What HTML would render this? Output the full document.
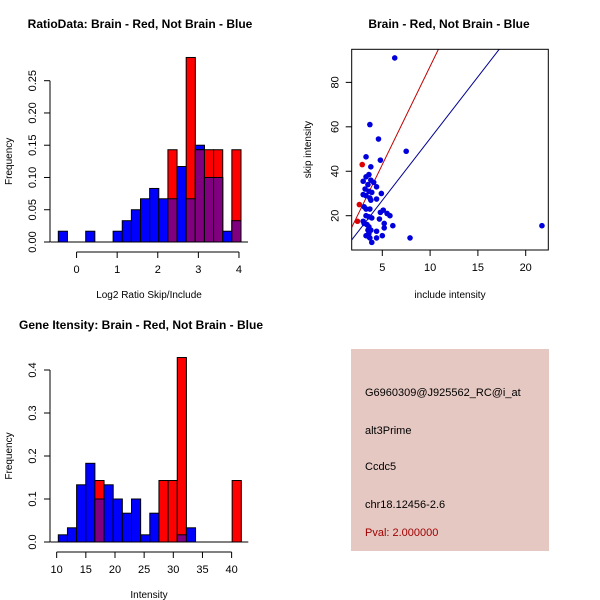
<!DOCTYPE html>
<html><head><meta charset="utf-8"><style>
body{margin:0;background:#fff}
svg{display:block;font-family:"Liberation Sans",sans-serif}
</style></head><body>
<svg id="s" width="600" height="600" xmlns="http://www.w3.org/2000/svg">
<rect width="600" height="600" fill="#fff"/>
<text x="140" y="28" font-size="12" font-weight="bold" text-anchor="middle">RatioData: Brain - Red, Not Brain - Blue</text>
<text x="449" y="28" font-size="12" font-weight="bold" text-anchor="middle">Brain - Red, Not Brain - Blue</text>
<text x="141" y="329" font-size="12" font-weight="bold" text-anchor="middle">Gene Itensity: Brain - Red, Not Brain - Blue</text>
<rect x="351" y="349" width="198" height="202" fill="#e5c8c2"/>
<g font-size="11">
<text x="365" y="396">G6960309@J925562_RC@i_at</text>
<text x="365" y="434">alt3Prime</text>
<text x="365" y="470">Ccdc5</text>
<text x="365" y="508">chr18.12456-2.6</text>
<text x="365" y="536" fill="#a00000">Pval: 2.000000</text>
</g>
</svg>
<script>
// Ratio histogram data
const ratioBlue=[0.0167,0,0,0.0167,0,0,0.0167,0.033,0.05,0.067,0.083,0.067,0.067,0.117,0.067,0.15,0.1,0.1,0.0167,0.033];
const ratioRed=[0,0,0,0,0,0,0,0,0,0,0,0,0.143,0,0.286,0.143,0.143,0.143,0,0.143];
const ratioXTicks=[0,1,2,3,4];
const ratioYTicks=["0.00","0.05","0.10","0.15","0.20","0.25"];
// Intensity histogram data
const intBlue=[0.0167,0.033,0.133,0.183,0.1,0.133,0.1,0.067,0.1,0.0167,0.067,0,0,0.0167,0.033,0,0,0,0,0];
const intRed=[0,0,0,0,0.143,0,0,0,0,0,0,0.143,0.143,0.429,0,0,0,0,0,0.143];
const intXTicks=[10,15,20,25,30,35,40];
const intYTicks=["0.0","0.1","0.2","0.3","0.4"];
// Scatter data
const scatBlueX=[6.3,3.7,4.6,7.5,3.3,4.8,3.8,3.6,3.3,3.0,3.8,4.1,3.5,4.4,3.2,3.6,3.9,3.0,4.9,3.3,3.7,4.4,3.8,3.1,3.3,3.7,5.1,4.8,5.5,5.8,3.3,3.6,3.9,4.7,3.0,3.1,5.2,3.4,6.1,3.6,5.2,3.5,3.8,4.4,3.6,3.3,3.6,5.0,4.4,3.7,7.9,3.9,21.7];
const scatBlueY=[91,61,54.5,49,46.5,45,42,38.5,37.5,35.5,36,35,34,33,32,31,30.5,29.5,30,29,28,27.5,27,24,23,23,22.5,21.5,21,20,20,19.5,19,18.5,17.5,16.5,16.5,16,15.5,15,14.5,13.5,13.5,13,12,11,10.5,11,10,10,10,8,15.5];
const scatRedX=[2.9,2.6,2.4];
const scatRedY=[43,25,17.5];
const redLine=[8.84,-1.2];
const blueLine=[5.56,-0.9];
const scatXTicks=[5,10,15,20];
const scatYTicks=[20,40,60,80];

const S=document.getElementById('s');
const NS='http://www.w3.org/2000/svg';
function mk(t,a,p){const e=document.createElementNS(NS,t);for(const k in a)e.setAttribute(k,a[k]);(p||S).appendChild(e);return e;}

function hist(blue,red,x0,x1,dmin,dmax,xticks,yvals,ylim,yTop,yBot,prefix,xlabel,xlabY){
  const g=mk('g',{});
  
  
  const n=blue.length,bw=(x1-x0)/n;
  const fy=v=>yBot-(v/ylim)*(yBot-yTop);
  for(let i=0;i<n;i++){
    const b=blue[i],r=red[i],lx=x0+i*bw;
    if(b>0){const e=mk('rect',{x:lx,y:fy(b),width:bw,height:yBot-fy(b),fill:'#0000ff',stroke:'#000','stroke-width':1},g);
      
      }
    if(r>0){const e=mk('rect',{x:lx,y:fy(r),width:bw,height:yBot-fy(r),fill:'#ff0000',stroke:'#000','stroke-width':1},g);
      
      }
    const m=Math.min(b,r);
    if(m>0){const e=mk('rect',{x:lx,y:fy(m),width:bw,height:yBot-fy(m),fill:'#800080',stroke:'#000','stroke-width':1},g);
      
      }
  }
  mk('line',{x1:x0-8,x2:x1+7,y1:yBot,y2:yBot,stroke:'#000'},g);
  const fx=v=>x0+(v-dmin)/(dmax-dmin)*(x1-x0);
  const ay=yBot+10;
  mk('line',{x1:fx(xticks[0]),x2:fx(xticks[xticks.length-1]),y1:ay,y2:ay,stroke:'#000'},g);
  xticks.forEach(t=>{mk('line',{x1:fx(t),x2:fx(t),y1:ay,y2:ay+6,stroke:'#000'},g);
    const tx=mk('text',{x:fx(t),y:ay+21,'font-size':11,'text-anchor':'middle'},g);tx.textContent=t;
    
    });
  mk('line',{x1:50,x2:50,y1:fy(parseFloat(yvals[0])),y2:fy(parseFloat(yvals[yvals.length-1])),stroke:'#000'},g);
  yvals.forEach(t=>{const y=fy(parseFloat(t));mk('line',{x1:44,x2:50,y1:y,y2:y,stroke:'#000'},g);
    const tx=mk('text',{x:0,y:0,'font-size':11,'text-anchor':'middle',transform:`translate(36,${y}) rotate(-90)`},g);tx.textContent=t;
    
    });
  const xl=mk('text',{x:(50+248)/2,y:xlabY,'font-size':10,'text-anchor':'middle'},g);xl.textContent=xlabel;
  
  
  const yl=mk('text',{x:0,y:0,'font-size':10,'text-anchor':'middle',transform:`translate(12,${(yTop+yBot)/2}) rotate(-90)`},g);yl.textContent='Frequency';
  
  
}
hist(ratioBlue,ratioRed,58.3,241,-0.45,4.05,ratioXTicks,ratioYTicks,0.25,80.7,242,'ratio','Log2 Ratio Skip/Include',298);
hist(intBlue,intRed,58.3,241.3,10.28,41.66,intXTicks,intYTicks,0.4,370,542,'intensity','Intensity',598);

(function(){
  const g=mk('g',{});
  
  
  const L=351.7,R=548.3,T=49.3,B=250;
  const sx=v=>382.3+(v-5)*9.56, sy=v=>215.7-(v-20)*2.222;
  const clip=mk('clipPath',{id:'cp'},g);mk('rect',{x:L,y:T,width:R-L,height:B-T},clip);
  const xmin=(L-382.3)/9.56+5,xmax=(R-382.3)/9.56+5;
  [[redLine,'#c00000'],[blueLine,'#000090']].forEach(([ln,c])=>{
    const e=mk('line',{x1:sx(xmin),y1:sy(ln[0]*xmin+ln[1]),x2:sx(xmax),y2:sy(ln[0]*xmax+ln[1]),stroke:c,'stroke-width':1,'clip-path':'url(#cp)'},g);
    
    
  });
  scatBlueX.forEach((x,i)=>{const e=mk('circle',{cx:sx(x),cy:sy(scatBlueY[i]),r:2.8,fill:'#0000dd'},g);
    
    });
  scatRedX.forEach((x,i)=>{const e=mk('circle',{cx:sx(x),cy:sy(scatRedY[i]),r:2.8,fill:'#dd0000'},g);
    
    });
  mk('rect',{x:L,y:T,width:R-L,height:B-T,fill:'none',stroke:'#000'},g);
  scatXTicks.forEach(t=>{mk('line',{x1:sx(t),x2:sx(t),y1:B,y2:B+6,stroke:'#000'},g);
    const tx=mk('text',{x:sx(t),y:B+21,'font-size':11,'text-anchor':'middle'},g);tx.textContent=t;
    
    });
  scatYTicks.forEach(t=>{const y=sy(t);mk('line',{x1:L-6,x2:L,y1:y,y2:y,stroke:'#000'},g);
    const tx=mk('text',{x:0,y:0,'font-size':11,'text-anchor':'middle',transform:`translate(${L-13},${y}) rotate(-90)`},g);tx.textContent=t;
    
    });
  const xl=mk('text',{x:(L+R)/2,y:298,'font-size':10,'text-anchor':'middle'},g);xl.textContent='include intensity';
  
  
  const yl=mk('text',{x:0,y:0,'font-size':10,'text-anchor':'middle',transform:`translate(311,${(T+B)/2}) rotate(-90)`},g);yl.textContent='skip intensity';
  
  
})();
</script>
</body></html>
